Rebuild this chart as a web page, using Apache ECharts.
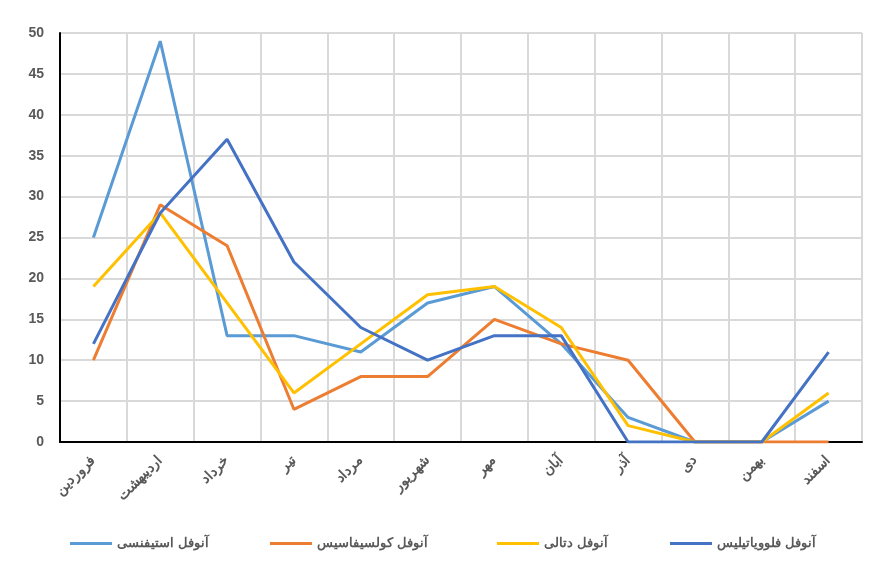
<!DOCTYPE html>
<html><head><meta charset="utf-8">
<script src="https://cdn.jsdelivr.net/npm/echarts@6/dist/echarts.min.js"></script>
<style>html,body{margin:0;padding:0;background:#fff}#c{width:875px;height:563px}</style>
</head><body><div id="c"></div>
<script>
const categories = ['فروردین','اردیبهشت','خرداد','تیر','مرداد','شهریور','مهر','آبان','آذر','دی','بهمن','اسفند'];
const seriesNames = ['آنوفل استیفنسی','آنوفل کولسیفاسیس','آنوفل دتالی','آنوفل فلوویاتیلیس'];
const stephensi = [25,49,13,13,11,17,19,12,3,0,0,5];
const culicifacies = [10,29,24,4,8,8,15,12,10,0,0,0];
const dthali = [19,28,17,6,12,18,19,14,2,0,0,6];
const fluviatilis = [12,28,37,22,14,10,13,13,0,0,0,11];
const yTicks = [0,5,10,15,20,25,30,35,40,45,50];

const colors = ['#5B9BD5','#ED7D31','#FFC000','#4472C4'];
const values = [stephensi, culicifacies, dthali, fluviatilis];
const legendX = [65, 265, 492, 665];
const font = 'Liberation Sans, Arial, sans-serif';

const chart = echarts.init(document.getElementById('c'));
chart.setOption({
  animation: false,
  color: colors,
  grid: {left: 60, right: 13, top: 33, bottom: 121},
  legend: seriesNames.map((n, i) => ({
    data: [n], left: legendX[i], top: 532, icon: 'rect', itemWidth: 42, itemHeight: 3,
    itemGap: 6, textStyle: {color: '#595959', fontSize: 13, fontWeight: 'bold', fontFamily: font}
  })),
  xAxis: {
    type: 'category', data: categories, boundaryGap: true,
    axisLine: {lineStyle: {color: '#000', width: 2}},
    axisTick: {show: false},
    splitLine: {show: true, lineStyle: {color: '#d9d9d9', width: 2}},
    axisLabel: {rotate: 45, color: '#595959', fontSize: 14, fontWeight: 'bold', fontFamily: font, margin: 16, interval: 0}
  },
  yAxis: {
    type: 'value', min: yTicks[0], max: yTicks[yTicks.length-1], interval: 5,
    axisLine: {show: true, lineStyle: {color: '#000', width: 2}},
    axisTick: {show: false},
    splitLine: {lineStyle: {color: '#d9d9d9', width: 2}},
    axisLabel: {color: '#595959', fontSize: 14, fontWeight: 'bold', fontFamily: font, margin: 16}
  },
  series: seriesNames.map((n, i) => ({
    name: n, type: 'line', data: values[i], symbol: 'none',
    lineStyle: {width: 3, color: colors[i]}
  }))
});
</script></body></html>
